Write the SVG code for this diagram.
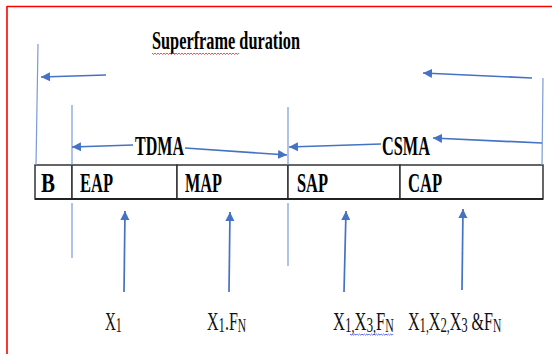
<svg xmlns="http://www.w3.org/2000/svg" width="552" height="354" viewBox="0 0 552 354">
<style>
.bold{font-family:"Liberation Serif","Times New Roman",serif;font-weight:bold;fill:#000}
.reg{font-family:"Liberation Serif","Times New Roman",serif;fill:#111}
.vl{stroke:#7c9ad6;stroke-width:1.2;fill:none}
.ar{stroke:#4472c4;stroke-width:1.7;fill:none;marker-end:url(#ah)}
.cell{fill:#fff;stroke:#333;stroke-width:1.5}
</style>
<defs>
<marker id="ah" markerUnits="userSpaceOnUse" viewBox="0 0 10 10" refX="10" refY="5" markerWidth="9" markerHeight="11" orient="auto">
<path d="M0,0 L10,5 L0,10 z" fill="#4472c4"/>
</marker>
</defs>
<rect width="552" height="354" fill="#fff"/>
<g id="border" stroke="#ff0000" stroke-width="1.6" fill="none">
<path d="M7,6.5 H552 M7,6 V354"/>
</g>
<g id="title">
<text class="bold" x="152" y="49" font-size="25" textLength="148" lengthAdjust="spacingAndGlyphs">Superframe duration</text>
<path d="M152,53 l1.5,1.5 l1.5,-1.5 l1.5,1.5 l1.5,-1.5 l1.5,1.5 l1.5,-1.5 l1.5,1.5 l1.5,-1.5 l1.5,1.5 l1.5,-1.5 l1.5,1.5 l1.5,-1.5 l1.5,1.5 l1.5,-1.5 l1.5,1.5 l1.5,-1.5 l1.5,1.5 l1.5,-1.5 l1.5,1.5 l1.5,-1.5 l1.5,1.5 l1.5,-1.5 l1.5,1.5 l1.5,-1.5 l1.5,1.5 l1.5,-1.5 l1.5,1.5 l1.5,-1.5 l1.5,1.5 l1.5,-1.5 l1.5,1.5 l1.5,-1.5 l1.5,1.5 l1.5,-1.5 l1.5,1.5 l1.5,-1.5 l1.5,1.5 l1.5,-1.5 l1.5,1.5 l1.5,-1.5 l1.5,1.5 l1.5,-1.5 l1.5,1.5 l1.5,-1.5 l1.5,1.5 l1.5,-1.5 l1.5,1.5 l1.5,-1.5 l1.5,1.5 l1.5,-1.5 l1.5,1.5 l1.5,-1.5 l1.5,1.5 l1.5,-1.5 l1.5,1.5 l1.5,-1.5 l1.5,1.5 l1.5,-1.5" stroke="#e03030" stroke-width="0.8" fill="none"/>
</g>
<g id="frame">
<g id="cell-B"><rect class="cell" x="35" y="165" width="37" height="34"/><text class="bold" x="41" y="192" font-size="28" textLength="14" lengthAdjust="spacingAndGlyphs">B</text></g>
<g id="cell-EAP"><rect class="cell" x="72" y="165" width="105" height="34"/><text class="bold" x="80" y="192" font-size="28" textLength="33" lengthAdjust="spacingAndGlyphs">EAP</text></g>
<g id="cell-MAP"><rect class="cell" x="177" y="165" width="111" height="34"/><text class="bold" x="185" y="192" font-size="28" textLength="37" lengthAdjust="spacingAndGlyphs">MAP</text></g>
<g id="cell-SAP"><rect class="cell" x="288" y="165" width="112" height="34"/><text class="bold" x="297" y="192" font-size="28" textLength="31" lengthAdjust="spacingAndGlyphs">SAP</text></g>
<g id="cell-CAP"><rect class="cell" x="400" y="165" width="143" height="34"/><text class="bold" x="408" y="192" font-size="28" textLength="34" lengthAdjust="spacingAndGlyphs">CAP</text></g>
<path d="M35,199 H543" stroke="#222" stroke-width="2"/>
</g>
<g id="labels">
<text class="bold" x="135" y="155" font-size="27" textLength="49" lengthAdjust="spacingAndGlyphs">TDMA</text>
<text class="bold" x="382" y="155" font-size="27" textLength="48" lengthAdjust="spacingAndGlyphs">CSMA</text>
<text id="lbl-eap" class="reg" font-size="25" transform="translate(105,330) scale(0.6,1)">X<tspan font-size="20" dy="2">1</tspan></text>
<text id="lbl-map" class="reg" font-size="25" transform="translate(207,330) scale(0.64,1)">X<tspan font-size="20" dy="2">1</tspan><tspan dy="-2">.</tspan>F<tspan font-size="18" dy="2">N</tspan></text>
<text id="lbl-sap" class="reg" font-size="25" transform="translate(333,330) scale(0.66,1)">X<tspan font-size="20" dy="2">1</tspan><tspan font-size="18">,</tspan><tspan dy="-2">X</tspan><tspan font-size="20" dy="2">3</tspan><tspan font-size="18">,</tspan><tspan dy="-2">F</tspan><tspan font-size="18" dy="2">N</tspan></text>
<path d="M350,334 l1.2,1.2 l1.2,-1.2 l1.2,1.2 l1.2,-1.2 l1.2,1.2 l1.2,-1.2 l1.2,1.2 l1.2,-1.2 l1.2,1.2 l1.2,-1.2 l1.2,1.2 l1.2,-1.2 l1.2,1.2 l1.2,-1.2 l1.2,1.2 l1.2,-1.2 l1.2,1.2 l1.2,-1.2 l1.2,1.2 l1.2,-1.2 l1.2,1.2 l1.2,-1.2 l1.2,1.2 l1.2,-1.2 l1.2,1.2 l1.2,-1.2 l1.2,1.2 l1.2,-1.2 l1.2,1.2 l1.2,-1.2 l1.2,1.2 l1.2,-1.2 l1.2,1.2 l1.2,-1.2 l1.2,1.2 l1.2,-1.2" stroke="#3040e0" stroke-width="0.8" fill="none"/>
<text id="lbl-cap" class="reg" font-size="25" transform="translate(408,330) scale(0.64,1)">X<tspan font-size="20" dy="2">1</tspan><tspan font-size="18">,</tspan><tspan dy="-2">X</tspan><tspan font-size="20" dy="2">2</tspan><tspan font-size="18">,</tspan><tspan dy="-2">X</tspan><tspan font-size="20" dy="2">3</tspan><tspan dy="-2"> &amp;F</tspan><tspan font-size="18" dy="2">N</tspan></text>
</g>
<g id="connectors">
<path class="vl" d="M38,44 L36,165"/>
<path class="vl" d="M72,105 V165 M72,203 V258"/>
<path class="vl" d="M288,107 V165 M288,203 V266"/>
<path class="vl" d="M543,78 L542,165"/>
<path class="ar" d="M106,75 L41,77"/>
<path class="ar" d="M532,78 L423,73"/>
<path class="ar" d="M133,145 L72,147"/>
<path class="ar" d="M185,148 L287,155"/>
<path class="ar" d="M381,144 L289,147"/>
<path class="ar" d="M542,143 L433,138"/>
<path class="ar" d="M124,292 L125,211"/>
<path class="ar" d="M229,292 L230,212"/>
<path class="ar" d="M344,292 L346,211"/>
<path class="ar" d="M462,290 L463,209"/>
</g>
</svg>
